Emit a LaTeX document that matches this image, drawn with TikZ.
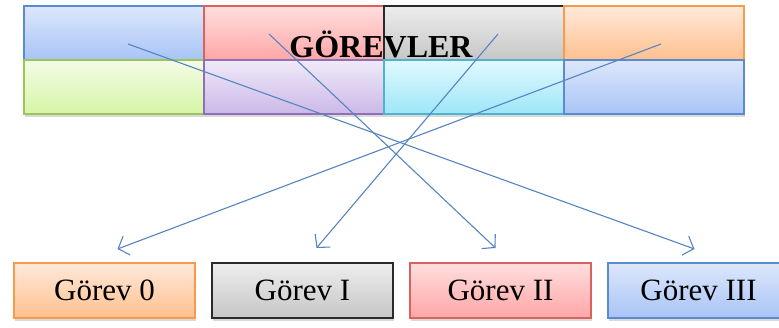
\documentclass[tikz,border=0pt]{standalone}
\usepackage{fontspec}
\setmainfont{Liberation Serif}
\usetikzlibrary{calc,shadows,arrows.meta}

\definecolor{bluetop}{HTML}{DDE7FB}
\definecolor{bluebot}{HTML}{A8C4F6}
\definecolor{blueline}{HTML}{5B8BCF}
\definecolor{redtop}{HTML}{FFDEDE}
\definecolor{redbot}{HTML}{FFA6A6}
\definecolor{redline}{HTML}{D9625F}
\definecolor{graytop}{HTML}{EDEDED}
\definecolor{graybot}{HTML}{C6C6C6}
\definecolor{grayline}{HTML}{2A2A2A}
\definecolor{orangetop}{HTML}{FFE9DA}
\definecolor{orangebot}{HTML}{FFC08E}
\definecolor{orangeline}{HTML}{F79A4E}
\definecolor{greentop}{HTML}{F3FCE6}
\definecolor{greenbot}{HTML}{D6F5A6}
\definecolor{greenline}{HTML}{9CC35C}
\definecolor{purpletop}{HTML}{EFEAF8}
\definecolor{purplebot}{HTML}{CCB8E8}
\definecolor{purpleline}{HTML}{8F6FB5}
\definecolor{cyantop}{HTML}{E2F9FF}
\definecolor{cyanbot}{HTML}{9DE6F8}
\definecolor{cyanline}{HTML}{4FB3CB}
\definecolor{arrowblue}{HTML}{5584C2}

\begin{document}
\begin{tikzpicture}[x=1pt,y=-1pt,
    cell/.style={draw=#1line, line width=1.2pt, top color=#1top, bottom color=#1bot,
      minimum width=180pt, minimum height=54pt, inner sep=0pt, outer sep=0pt,
      anchor=north west, drop shadow={shadow xshift=1pt, shadow yshift=-3pt, opacity=0.3}},
    task/.style={cell=#1, minimum width=181pt, minimum height=55pt,
      font=\fontsize{31}{31}\selectfont},
    link/.style={draw=arrowblue, line width=1.1pt, -{Straight Barb[length=9pt,width=20pt,line width=1.1pt]}}]
  \useasboundingbox (0,0) rectangle (779,327);

  % top table
  \node[cell=blue]   (c11) at (24,6) {};
  \node[cell=red]    (c12) at (204,6) {};
  \node[cell=gray]   (c13) at (384,6) {};
  \node[cell=orange] (c14) at (564,6) {};
  \node[cell=green]  (c21) at (24,60) {};
  \node[cell=purple] (c22) at (204,60) {};
  \node[cell=cyan]   (c23) at (384,60) {};
  \node[cell=blue]   (c24) at (564,60) {};
  \node[font=\fontsize{32}{32}\selectfont\bfseries] (title) at (381,44) {GÖREVLER};

  % tasks
  \node[task=orange] (g0) at (14,263)  {Görev 0};
  \node[task=gray]   (g1) at (212,263) {Görev I};
  \node[task=red]    (g2) at (410,263) {Görev II};
  \node[task=blue]   (g3) at (608,263) {Görev III};

  \coordinate (s0) at (128,44);
  \coordinate (s1) at (269,34);
  \coordinate (s2) at (498,34);
  \coordinate (s3) at (661,44);

  \draw[link] (s0) -- ([xshift=-4pt,yshift=14pt]g3.north);
  \draw[link] (s1) -- ([xshift=-5pt,yshift=15pt]g2.north);
  \draw[link] (s2) -- ([xshift=14pt,yshift=15pt]g1.north);
  \draw[link] (s3) -- ([xshift=13pt,yshift=14pt]g0.north);
\end{tikzpicture}
\end{document}
